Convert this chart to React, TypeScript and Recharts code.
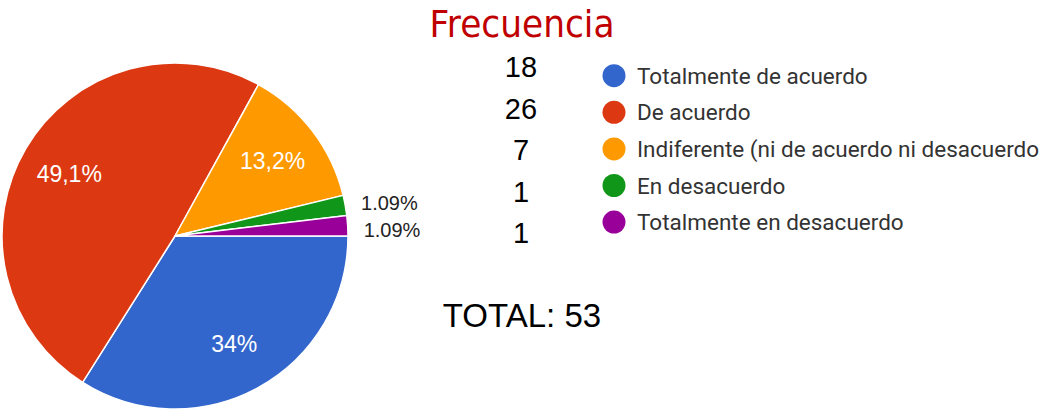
import { Pie, PieChart, Cell } from "recharts";

const categories = [
  "Totalmente de acuerdo",
  "De acuerdo",
  "Indiferente (ni de acuerdo ni desacuerdo",
  "En desacuerdo",
  "Totalmente en desacuerdo",
];
const counts = [18, 26, 7, 1, 1];
const sliceLabels = ["34%", "49,1%", "13,2%", "1.09%", "1.09%"];
const colors = ["#3366cc", "#dc3912", "#ff9900", "#109618", "#990099"];

const total = counts.reduce((a, b) => a + b, 0);
const data = categories.map((name, i) => ({ name, value: counts[i] }));

const CX = 175;
const CY = 236;
const R = 173;
const RADIAN = Math.PI / 180;

// outside labels for thin slices: spread them so they don't overlap
const outsideY: Record<number, number> = {};
{
  let acc = 0;
  let prevY = -Infinity;
  counts.forEach((c, i) => {
    const mid = -((acc + c / 2) / total) * 360;
    acc += c;
    if (c / total >= 0.05) return;
    let y = CY + (R + 15) * Math.sin(-mid * RADIAN);
    if (y - prevY < 27) y = prevY + 27;
    outsideY[i] = y;
    prevY = y;
  });
}

const renderLabel = (props: any) => {
  const { cx, cy, midAngle, outerRadius, index, percent } = props;
  if (percent >= 0.05) {
    const r = outerRadius * 0.71;
    const x = cx + r * Math.cos(-midAngle * RADIAN);
    const y = cy + r * Math.sin(-midAngle * RADIAN);
    return (
      <text x={x} y={y} fill="#fff" fontSize={23} textAnchor="middle" dominantBaseline="central"
        fontFamily="'Liberation Sans', Arial, sans-serif">
        {sliceLabels[index]}
      </text>
    );
  }
  const r = outerRadius + 16;
  const x = cx + r * Math.cos(-midAngle * RADIAN);
  const y = outsideY[index] ?? cy + r * Math.sin(-midAngle * RADIAN);
  return (
    <text x={x} y={y} fill="#222" fontSize={20} textAnchor="start" dominantBaseline="central"
      fontFamily="'Liberation Sans', Arial, sans-serif">
      {sliceLabels[index]}
    </text>
  );
};

export default function App() {
  return (
    <div style={{ position: "absolute", left: 0, top: 0, width: 1052, height: 411, background: "#fff" }}>
      <PieChart width={1052} height={411} margin={{ top: 0, right: 0, bottom: 0, left: 0 }}>
        <Pie
          data={data}
          dataKey="value"
          nameKey="name"
          cx={CX}
          cy={CY}
          outerRadius={R}
          startAngle={0}
          endAngle={-360}
          stroke="#fff"
          strokeWidth={1.5}
          labelLine={false}
          label={renderLabel}
          isAnimationActive={false}
        >
          {data.map((d, i) => (
            <Cell key={d.name} fill={colors[i]} />
          ))}
        </Pie>
        <text x={522} y={37} fontSize={38} fill="#c00000" textAnchor="middle" textLength={185}
          lengthAdjust="spacingAndGlyphs" fontFamily="'Comic Sans MS', 'DejaVu Sans', sans-serif">
          Frecuencia
        </text>
        {counts.map((c, i) => (
          <text key={"c" + i} x={521} y={77 + i * 41.6} fontSize={29} fill="#000" textAnchor="middle"
            fontFamily="'Liberation Sans', Arial, sans-serif">
            {c}
          </text>
        ))}
        <text x={522} y={327} fontSize={33} fill="#000" textAnchor="middle"
          fontFamily="'Liberation Sans', Arial, sans-serif">
          {`TOTAL: ${total}`}
        </text>
        {categories.map((name, i) => (
          <g key={"l" + i}>
            <circle cx={614} cy={75.7 + i * 36.6} r={11.5} fill={colors[i]} />
            <text x={637} y={75.7 + i * 36.6} fontSize={22.5} fill="#333" dominantBaseline="central"
              fontFamily="Roboto, Arial, sans-serif">
              {name}
            </text>
          </g>
        ))}
      </PieChart>
    </div>
  );
}
